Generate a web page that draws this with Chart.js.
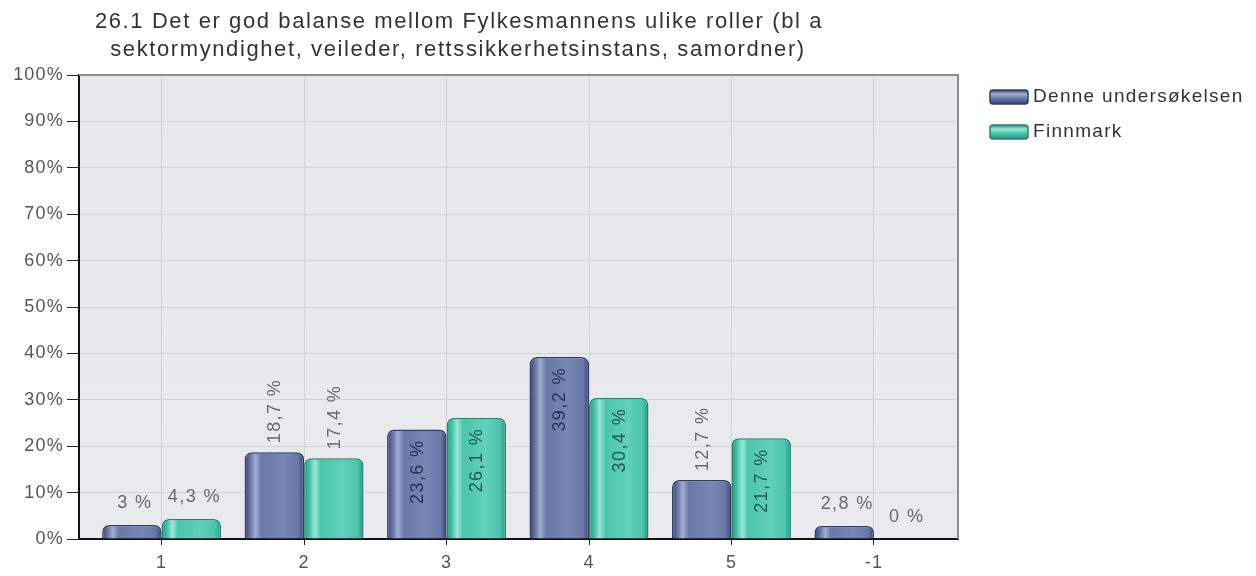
<!DOCTYPE html>
<html>
<head>
<meta charset="utf-8">
<script src="https://cdn.jsdelivr.net/npm/chart.js@4.4.1/dist/chart.umd.min.js"></script>
<style>
  html, body { margin: 0; padding: 0; background: #ffffff; }
  #c { display: block; }
</style>
</head>
<body>
<canvas id="c" width="1256" height="576"></canvas>
<script>
const titleLines = [
  '26.1 Det er god balanse mellom Fylkesmannens ulike roller (bl a',
  'sektormyndighet, veileder, rettssikkerhetsinstans, samordner)'
];
const categories = ['1', '2', '3', '4', '5', '-1'];
const seriesNames = ['Denne undersøkelsen', 'Finnmark'];
const denneValues = [3, 18.7, 23.6, 39.2, 12.7, 2.8];
const finnmarkValues = [4.3, 17.4, 26.1, 30.4, 21.7, 0];
const yTickValues = [0, 10, 20, 30, 40, 50, 60, 70, 80, 90, 100];

const FONT = '"Liberation Sans", Arial, Helvetica, sans-serif';

const palettes = [
  { dark: '#3a4570', light: '#a3aed3', mid: '#6a78a8', mid2: '#7886b6', border: '#323c62', text: '#2a3352' },
  { dark: '#2a9480', light: '#98e8d6', mid: '#4cc4ad', mid2: '#62d0ba', border: '#288371', text: '#1e5a50' }
];

function barGradient(ctx, x0, x1, p) {
  const g = ctx.createLinearGradient(x0, 0, x1, 0);
  g.addColorStop(0, p.dark);
  g.addColorStop(0.1, p.mid);
  g.addColorStop(0.18, p.light);
  g.addColorStop(0.28, p.mid);
  g.addColorStop(0.65, p.mid2);
  g.addColorStop(0.9, p.mid);
  g.addColorStop(1, p.dark);
  return g;
}

function fmt(v) { return String(v).replace('.', ',') + ' %'; }

function setSpacing(ctx, px) {
  if ('letterSpacing' in ctx) ctx.letterSpacing = px + 'px';
}

const plotPlugin = {
  id: 'plotDecor',
  beforeDraw(chart) {
    const { ctx, chartArea: a } = chart;
    ctx.save();
    const g = ctx.createLinearGradient(0, a.top, 0, a.bottom);
    g.addColorStop(0, '#e6e8eb');
    g.addColorStop(1, '#e9eaed');
    ctx.fillStyle = g;
    ctx.fillRect(a.left, a.top, a.right - a.left, a.bottom - a.top);
    ctx.restore();
    setSpacing(ctx, 1.2);
  },
  beforeDatasetsDraw(chart) {
    const ctx = chart.ctx;
    chart.data.datasets.forEach((ds, di) => {
      const meta = chart.getDatasetMeta(di);
      meta.data.forEach(el => {
        const { x, width } = el.getProps(['x', 'width'], true);
        const grad = barGradient(ctx, x - width / 2, x + width / 2, palettes[di]);
        el.options = Object.assign({}, el.options, { backgroundColor: grad });
      });
    });
  },
  afterDatasetsDraw(chart) {
    const ctx = chart.ctx;
    ctx.save();
    ctx.font = '18px ' + FONT;
    setSpacing(ctx, 1.4);
    chart.data.datasets.forEach((ds, di) => {
      const meta = chart.getDatasetMeta(di);
      const values = di === 0 ? denneValues : finnmarkValues;
      meta.data.forEach((el, i) => {
        const v = values[i];
        const { x, y } = el.getProps(['x', 'y'], true);
        const txt = fmt(v);
        if (v < 5) {
          ctx.fillStyle = '#6a6a6a';
          ctx.textAlign = 'center';
          ctx.textBaseline = 'bottom';
          ctx.fillText(txt, x + 3, y - 13);
        } else if (v < 20) {
          ctx.save();
          ctx.fillStyle = '#6a6a6a';
          ctx.translate(x + 1, y - 9);
          ctx.rotate(-Math.PI / 2);
          ctx.textAlign = 'left';
          ctx.textBaseline = 'middle';
          ctx.fillText(txt, 0, 0);
          ctx.restore();
        } else {
          ctx.save();
          ctx.fillStyle = palettes[di].text;
          ctx.translate(x + 1, y + 10);
          ctx.rotate(-Math.PI / 2);
          ctx.textAlign = 'right';
          ctx.textBaseline = 'middle';
          ctx.fillText(txt, 0, 0);
          ctx.restore();
        }
      });
    });
    ctx.restore();
  },
  afterDraw(chart) {
    const { ctx, chartArea: a } = chart;
    ctx.save();
    ctx.strokeStyle = '#8c8c8c';
    ctx.lineWidth = 2;
    ctx.beginPath();
    ctx.moveTo(a.left, a.top);
    ctx.lineTo(a.right, a.top);
    ctx.lineTo(a.right, a.bottom);
    ctx.stroke();
    ctx.fillStyle = '#333333';
    ctx.font = '22px ' + FONT;
    setSpacing(ctx, 1.6);
    ctx.textAlign = 'center';
    ctx.textBaseline = 'middle';
    ctx.fillText(titleLines[0], 459, 22);
    ctx.fillText(titleLines[1], 458, 50);
    const lx = 990, rows = [97, 132];
    chart.data.datasets.forEach((ds, di) => {
      const cy = rows[di];
      const p = palettes[di];
      const g = ctx.createLinearGradient(0, cy - 7, 0, cy + 7);
      g.addColorStop(0, p.dark);
      g.addColorStop(0.3, p.light);
      g.addColorStop(0.6, p.mid);
      g.addColorStop(1, p.dark);
      ctx.fillStyle = g;
      ctx.strokeStyle = p.border;
      ctx.lineWidth = 1.5;
      ctx.beginPath();
      ctx.roundRect(lx, cy - 7, 38, 14, 3);
      ctx.fill();
      ctx.stroke();
      ctx.fillStyle = '#333333';
      ctx.font = '19px ' + FONT;
      setSpacing(ctx, 1.3);
      ctx.textAlign = 'left';
      ctx.textBaseline = 'middle';
      ctx.fillText(ds.label, lx + 43, cy);
    });
    ctx.restore();
  }
};

const toPoints = vals => categories.map((c, i) => ({ x: i + 1, y: vals[i] }));

const barCommon = {
  borderWidth: 1.5,
  borderRadius: { topLeft: 7, topRight: 7, bottomLeft: 0, bottomRight: 0 },
  borderSkipped: 'bottom',
  categoryPercentage: 0.835,
  barPercentage: 1
};

new Chart(document.getElementById('c'), {
  type: 'bar',
  data: {
    datasets: [
      Object.assign({ label: seriesNames[0], data: toPoints(denneValues), backgroundColor: palettes[0].mid, borderColor: palettes[0].border }, barCommon),
      Object.assign({ label: seriesNames[1], data: toPoints(finnmarkValues), backgroundColor: palettes[1].mid, borderColor: palettes[1].border }, barCommon)
    ]
  },
  options: {
    responsive: false,
    animation: false,
    layout: { padding: { left: 0, top: 75, right: 298, bottom: 0 } },
    plugins: { legend: { display: false }, tooltip: { enabled: false }, title: { display: false } },
    scales: {
      x: {
        type: 'linear',
        offset: false,
        min: 0.42,
        max: 6.59,
        afterBuildTicks(scale) { scale.ticks = categories.map((c, i) => ({ value: i + 1 })); },
        afterFit(scale) { scale.height = 37; },
        ticks: {
          callback: v => categories[Math.round(v) - 1],
          font: { family: FONT, size: 18 },
          color: '#555555',
          padding: 7,
          maxRotation: 0
        },
        grid: { offset: false, color: '#d2d3d6', tickColor: '#222222', tickLength: 6, lineWidth: 1 },
        border: { color: '#111111', width: 2 }
      },
      y: {
        min: 0,
        max: 100,
        afterBuildTicks(scale) { scale.ticks = yTickValues.map(v => ({ value: v })); },
        afterFit(scale) { scale.width = 79; },
        ticks: {
          callback: v => v + '%',
          font: { family: FONT, size: 18 },
          color: '#555555',
          padding: 3
        },
        grid: { color: '#d2d3d6', tickColor: '#222222', tickLength: 12, lineWidth: 1 },
        border: { color: '#111111', width: 2 }
      }
    }
  },
  plugins: [plotPlugin]
});
</script>
</body>
</html>
